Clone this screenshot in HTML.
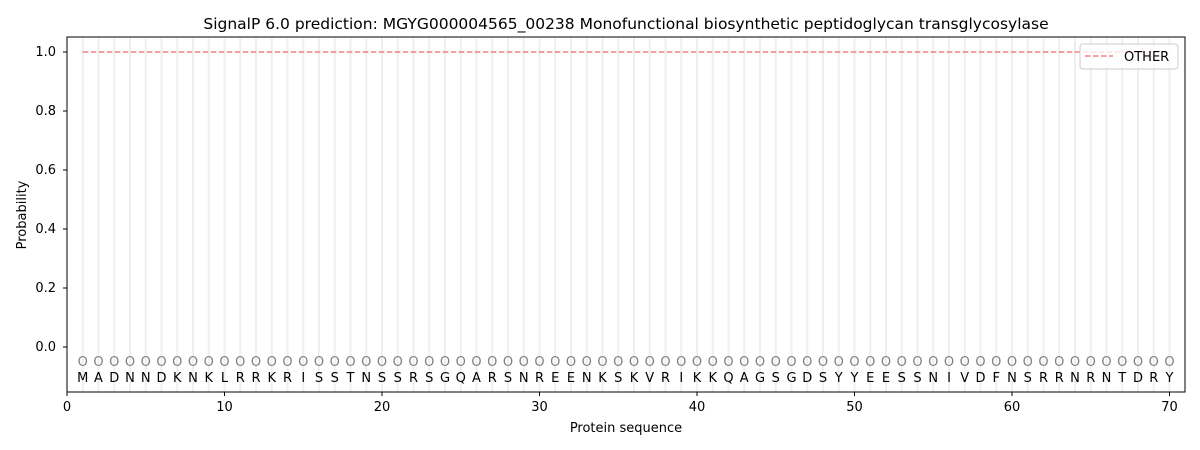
<!DOCTYPE html>
<html><head><meta charset="utf-8"><style>body{margin:0;background:#fff}svg{display:block}text{font-family:"DejaVu Sans","Liberation Sans",sans-serif}</style></head><body>
<svg width="1200" height="450" xmlns="http://www.w3.org/2000/svg">
<rect width="1200" height="450" fill="#fff"/>
<g id="grid" stroke="#efefef" stroke-width="2"></g>
<line x1="82.75" y1="52" x2="1169.5" y2="52" stroke="#f08080" stroke-width="1.5" stroke-dasharray="5.5,2.5"/>
<g id="circ" font-size="13" text-anchor="middle" fill="#808080"></g>
<g id="let" font-size="13" text-anchor="middle" fill="#000"></g>
<rect x="67" y="37" width="1118" height="355" fill="none" stroke="#000" stroke-width="1"/>
<g font-size="13" fill="#000">
<g text-anchor="end">
<text x="56" y="56">1.0</text><text x="56" y="115">0.8</text><text x="56" y="174">0.6</text><text x="56" y="233">0.4</text><text x="56" y="292">0.2</text><text x="56" y="351">0.0</text>
</g>
<g stroke="#000"><line x1="63" x2="67" y1="52" y2="52"/><line x1="63" x2="67" y1="111" y2="111"/><line x1="63" x2="67" y1="170" y2="170"/><line x1="63" x2="67" y1="229" y2="229"/><line x1="63" x2="67" y1="288" y2="288"/><line x1="63" x2="67" y1="347" y2="347"/>
<line y1="392" y2="396" x1="67" x2="67"/><line y1="392" y2="396" x1="224.5" x2="224.5"/><line y1="392" y2="396" x1="382" x2="382"/><line y1="392" y2="396" x1="539.5" x2="539.5"/><line y1="392" y2="396" x1="697" x2="697"/><line y1="392" y2="396" x1="854.5" x2="854.5"/><line y1="392" y2="396" x1="1012" x2="1012"/><line y1="392" y2="396" x1="1169.5" x2="1169.5"/></g>
<g text-anchor="middle">
<text x="67" y="411">0</text><text x="224.5" y="411">10</text><text x="382" y="411">20</text><text x="539.5" y="411">30</text><text x="697" y="411">40</text><text x="854.5" y="411">50</text><text x="1012" y="411">60</text><text x="1169.5" y="411">70</text>
<text x="626" y="432">Protein sequence</text>
<text x="626" y="29" font-size="15.5">SignalP 6.0 prediction: MGYG000004565_00238 Monofunctional biosynthetic peptidoglycan transglycosylase</text>
</g>
<text transform="translate(26,215) rotate(-90)" text-anchor="middle">Probability</text>
</g>
<rect x="1080" y="44" width="98" height="25" rx="3" fill="#fff" fill-opacity="0.8" stroke="#ccc"/>
<line x1="1085" y1="56" x2="1113" y2="56" stroke="#f08080" stroke-width="1.5" stroke-dasharray="5.5,2.5"/>
<text x="1124" y="61" font-size="13">OTHER</text>
<script>
var s="MADNNDKNKLRRKRISSTNSSRSGQARSNREENKSKVRIKKQAGSGDSYYEESSNIVDFNSRRNRNTDRY";
var g=document.getElementById('grid'),c=document.getElementById('circ'),l=document.getElementById('let'),ns="http://www.w3.org/2000/svg";
for(var i=0;i<70;i++){var x=67+(i+1)*15.75;
var ln=document.createElementNS(ns,'line');ln.setAttribute('x1',x);ln.setAttribute('x2',x);ln.setAttribute('y1',37);ln.setAttribute('y2',392);g.appendChild(ln);
var e=document.createElementNS(ns,'text');e.setAttribute('x',x);e.setAttribute('y',366);e.textContent='O';c.appendChild(e);
var t=document.createElementNS(ns,'text');t.setAttribute('x',x);t.setAttribute('y',382);t.textContent=s[i];l.appendChild(t);}
</script>
</svg>
</body></html>
